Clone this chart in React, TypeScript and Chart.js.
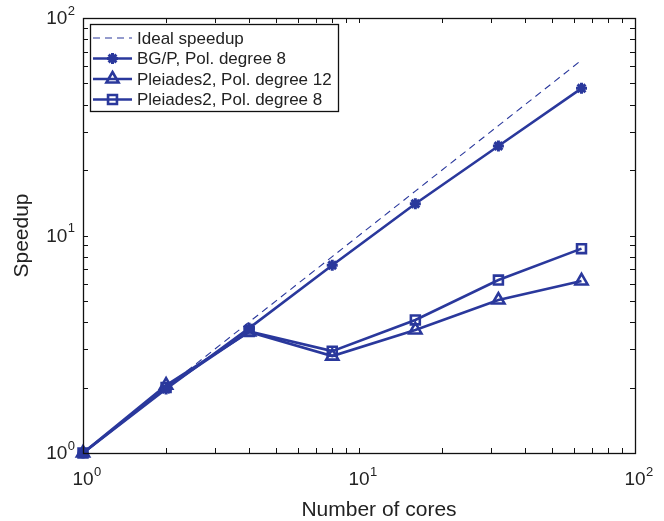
import React, { useEffect, useRef } from 'react';
import { Chart, registerables } from 'chart.js';

Chart.register(...registerables);

const cores = [1, 2, 4, 8, 16, 32, 64];
const idealSpeedup = [1, 2, 4, 8, 16, 32, 64];
const bgpDeg8 = [1, 1.97, 3.75, 7.3, 14.0, 25.8, 47.5];
const pleiadesDeg12 = [1, 2.05, 3.6, 2.79, 3.68, 5.05, 6.18];
const pleiadesDeg8 = [1, 2.0, 3.62, 2.94, 4.09, 6.24, 8.7];
const seriesLabels = [
  'Ideal speedup',
  'BG/P, Pol. degree 8',
  'Pleiades2, Pol. degree 12',
  'Pleiades2, Pol. degree 8',
];
const majorTicks = [1, 10, 100];
const majorTickBase = ['10', '10', '10'];
const majorTickExp = ['0', '1', '2'];
const xTitle = 'Number of cores';
const yTitle = 'Speedup';

const COLOR = '#2a389c';
const FONT = '"Liberation Sans", Arial, Helvetica, sans-serif';

function drawMarker(ctx: CanvasRenderingContext2D, style: string, x: number, y: number, r: number) {
  ctx.beginPath();
  if (style === 'star') {
    const d = r * Math.SQRT1_2;
    ctx.moveTo(x - r, y); ctx.lineTo(x + r, y);
    ctx.moveTo(x, y - r); ctx.lineTo(x, y + r);
    ctx.moveTo(x - d, y - d); ctx.lineTo(x + d, y + d);
    ctx.moveTo(x - d, y + d); ctx.lineTo(x + d, y - d);
  } else if (style === 'triangle') {
    ctx.moveTo(x, y - r);
    ctx.lineTo(x + 0.866 * r, y + 0.5 * r);
    ctx.lineTo(x - 0.866 * r, y + 0.5 * r);
    ctx.closePath();
  } else if (style === 'rect') {
    const s = r * Math.SQRT1_2;
    ctx.rect(x - s, y - s, 2 * s, 2 * s);
  }
  ctx.stroke();
}

const decorPlugin = {
  id: 'decor',
  afterDraw(chart: any) {
    const ctx: CanvasRenderingContext2D = chart.ctx;
    const { left, right, top, bottom } = chart.chartArea;
    const xs = chart.scales.x;
    const ys = chart.scales.y;
    ctx.save();

    // tick marks (inward, all four sides)
    const tickVals: number[] = [];
    for (let d = 1; d <= 10; d *= 10) for (let k = 1; k <= 9; k++) tickVals.push(k * d);
    tickVals.push(100);
    const TL = 5;
    ctx.strokeStyle = '#111';
    ctx.lineWidth = 1;
    ctx.beginPath();
    for (const v of tickVals) {
      const px = Math.round(xs.getPixelForValue(v)) + 0.5;
      ctx.moveTo(px, bottom); ctx.lineTo(px, bottom - TL);
      ctx.moveTo(px, top); ctx.lineTo(px, top + TL);
      const py = Math.round(ys.getPixelForValue(v)) + 0.5;
      ctx.moveTo(left, py); ctx.lineTo(left + TL, py);
      ctx.moveTo(right, py); ctx.lineTo(right - TL, py);
    }
    ctx.stroke();
    ctx.lineWidth = 1.3;
    ctx.strokeRect(Math.round(left) + 0.5, Math.round(top) + 0.5, Math.round(right - left), Math.round(bottom - top));

    // tick labels
    const baseFont = `19px ${FONT}`;
    const expFont = `13px ${FONT}`;
    ctx.fillStyle = '#222';
    ctx.textBaseline = 'middle';
    ctx.textAlign = 'left';
    majorTicks.forEach((v, i) => {
      const base = majorTickBase[i];
      const ex = majorTickExp[i];
      ctx.font = baseFont;
      const bw = ctx.measureText(base).width;
      ctx.font = expFont;
      const ew = ctx.measureText(ex).width;
      // x axis
      const px = xs.getPixelForValue(v);
      ctx.font = baseFont;
      ctx.fillText(base, px - bw / 2, 480);
      ctx.font = expFont;
      ctx.fillText(ex, px + bw / 2 + 0.5, 472);
      // y axis
      const py = ys.getPixelForValue(v);
      const rightEdge = 75;
      ctx.font = baseFont;
      ctx.fillText(base, rightEdge - ew - bw - 0.5, py + 1);
      ctx.font = expFont;
      ctx.fillText(ex, rightEdge - ew, py - 7);
    });

    // axis titles
    ctx.font = `21px ${FONT}`;
    ctx.textAlign = 'center';
    ctx.textBaseline = 'alphabetic';
    ctx.fillText(xTitle, 379, 516);
    ctx.save();
    ctx.translate(22, (top + bottom) / 2);
    ctx.rotate(-Math.PI / 2);
    ctx.textBaseline = 'middle';
    ctx.fillText(yTitle, 0, 0);
    ctx.restore();

    // legend
    const lx = 90, ly = 24;
    ctx.font = `17px ${FONT}`;
    let maxW = 0;
    chart.data.datasets.forEach((ds: any) => { maxW = Math.max(maxW, ctx.measureText(ds.label).width); });
    const lw = 137 - lx + maxW + 6;
    const lh = 87;
    ctx.fillStyle = '#fff';
    ctx.fillRect(lx, ly, lw, lh);
    ctx.strokeStyle = '#111';
    ctx.lineWidth = 1.3;
    ctx.strokeRect(lx + 0.5, ly + 0.5, Math.round(lw), lh);
    chart.data.datasets.forEach((ds: any, i: number) => {
      const y = ly + 14 + i * 20.5;
      ctx.strokeStyle = COLOR;
      ctx.lineWidth = ds.borderWidth;
      ctx.setLineDash(ds.borderDash || []);
      ctx.beginPath();
      ctx.moveTo(93, y);
      ctx.lineTo(132, y);
      ctx.stroke();
      ctx.setLineDash([]);
      if (ds.pointRadius > 0) {
        ctx.lineWidth = ds.pointBorderWidth;
        drawMarker(ctx, ds.pointStyle, 112.5, y, ds.pointRadius);
      }
      ctx.fillStyle = '#222';
      ctx.textAlign = 'left';
      ctx.textBaseline = 'middle';
      ctx.fillText(ds.label, 137, y + 1);
    });

    ctx.restore();
  },
};

function series(values: number[], label: string, style: string, radius: number, width: number, pw: number, dash: number[] | undefined) {
  return {
    label,
    data: cores.map((c, i) => ({ x: c, y: values[i] })),
    borderColor: COLOR,
    backgroundColor: 'rgba(0,0,0,0)',
    borderWidth: width,
    borderDash: dash,
    pointStyle: style,
    pointRadius: radius,
    pointBorderWidth: pw,
    pointBorderColor: COLOR,
    pointBackgroundColor: 'rgba(0,0,0,0)',
    tension: 0,
    clip: false,
  };
}

export default function App() {
  const ref = useRef<HTMLCanvasElement | null>(null);
  useEffect(() => {
    if (!ref.current) return;
    const chart = new Chart(ref.current, {
      type: 'line',
      data: {
        datasets: [
          series(idealSpeedup, seriesLabels[0], 'circle', 0, 1.1, 1, [7, 5]),
          series(bgpDeg8, seriesLabels[1], 'star', 5.5, 2.6, 3, undefined),
          series(pleiadesDeg12, seriesLabels[2], 'triangle', 7, 2.6, 2.6, undefined),
          series(pleiadesDeg8, seriesLabels[3], 'rect', 6.3, 2.6, 2.6, undefined),
        ] as any,
      },
      options: {
        responsive: false,
        animation: false,
        events: [],
        layout: { padding: { left: 83, right: 29, top: 18, bottom: 68 } },
        plugins: { legend: { display: false }, tooltip: { enabled: false } },
        scales: {
          x: { type: 'logarithmic', min: 1, max: 100, display: false },
          y: { type: 'logarithmic', min: 1, max: 100, display: false },
        },
      },
      plugins: [decorPlugin],
    });
    return () => chart.destroy();
  }, []);
  return (
    <div style={{ position: 'fixed', left: 0, top: 0, width: 664, height: 521, background: '#fff' }}>
      <canvas ref={ref} width={664} height={521} style={{ display: 'block' }} />
    </div>
  );
}
